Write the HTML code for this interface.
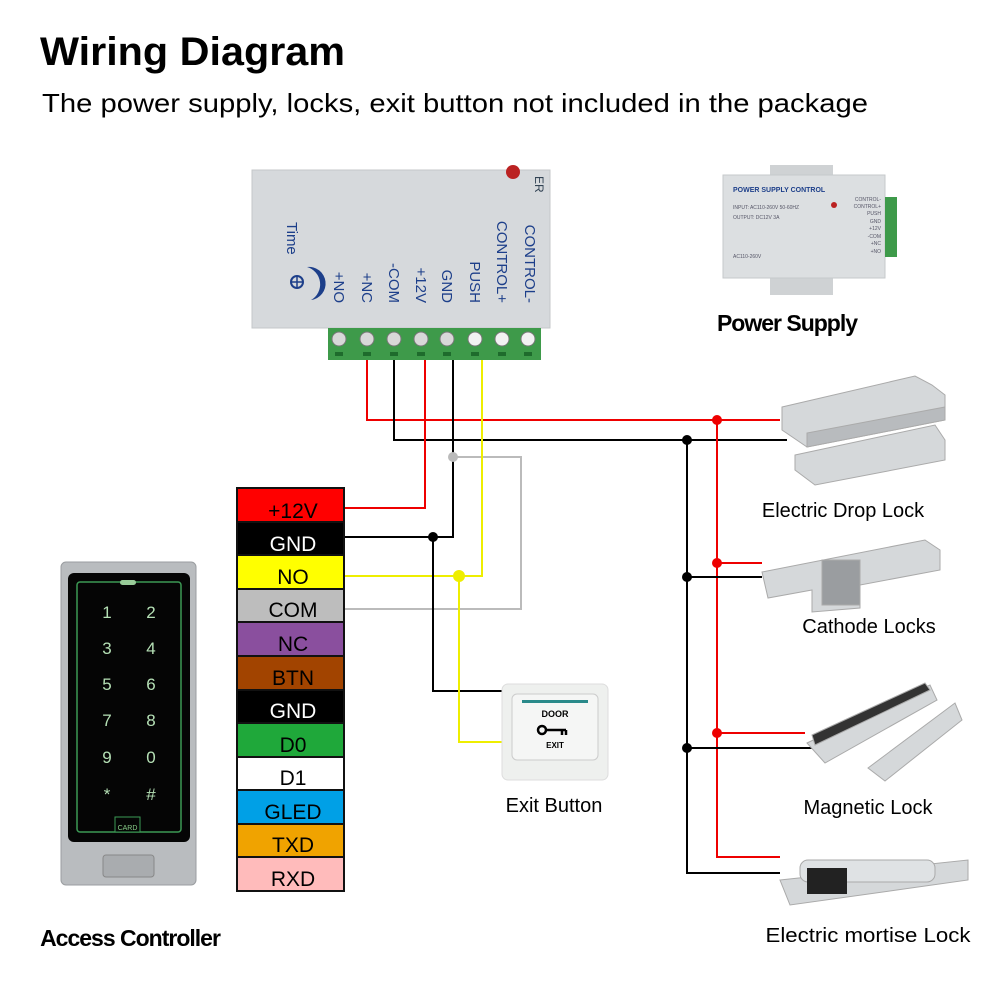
<!DOCTYPE html>
<html><head><meta charset="utf-8"><style>
html,body{margin:0;padding:0;background:#fff;}
svg{display:block;font-family:"Liberation Sans",sans-serif;}
</style></head><body>
<svg width="1000" height="1000" viewBox="0 0 1000 1000" xmlns="http://www.w3.org/2000/svg">
<rect width="1000" height="1000" fill="#fff"/>
<text x="40" y="65" font-size="40" font-weight="bold" textLength="305" lengthAdjust="spacingAndGlyphs">Wiring Diagram</text>
<text x="42" y="112" font-size="26" textLength="826" lengthAdjust="spacingAndGlyphs">The power supply, locks, exit button not included in the package</text>

<!-- Top power supply -->
<rect x="252" y="170" width="298" height="158" fill="#d6d9dc"/>
<rect x="252" y="170" width="298" height="158" fill="none" stroke="#c4c7ca"/>
<circle cx="513" cy="172" r="7" fill="#b22"/>
<text x="535" y="176" font-size="12" fill="#345" transform="rotate(90 535 176)">ER</text>
<g font-size="15" fill="#1d3f8a">
<text x="287" y="222" transform="rotate(90 287 222)">Time</text>
<text x="334" y="303" text-anchor="end" transform="rotate(90 334 303)">+NO</text>
<text x="362" y="303" text-anchor="end" transform="rotate(90 362 303)">+NC</text>
<text x="389" y="303" text-anchor="end" transform="rotate(90 389 303)">-COM</text>
<text x="416" y="303" text-anchor="end" transform="rotate(90 416 303)">+12V</text>
<text x="442" y="303" text-anchor="end" transform="rotate(90 442 303)">GND</text>
<text x="470" y="303" text-anchor="end" transform="rotate(90 470 303)">PUSH</text>
<text x="497" y="303" text-anchor="end" transform="rotate(90 497 303)">CONTROL+</text>
<text x="525" y="303" text-anchor="end" transform="rotate(90 525 303)">CONTROL-</text>
</g>
<path d="M307 267 A15 15 0 0 1 311 300 A18 18 0 0 0 307 267Z" fill="#1d3f8a"/>
<circle cx="297" cy="282" r="6" fill="none" stroke="#1d3f8a" stroke-width="2"/>
<path d="M291 282H303M297 276V288" stroke="#1d3f8a" stroke-width="1.5"/>
<rect x="328" y="328" width="213" height="32" fill="#3e9a4a"/>
<g fill="#d8d8d8" stroke="#777">
<circle cx="339" cy="339" r="7"/><circle cx="367" cy="339" r="7"/><circle cx="394" cy="339" r="7"/><circle cx="421" cy="339" r="7"/>
<circle cx="447" cy="339" r="7"/><circle cx="475" cy="339" r="7" fill="#f2f2f2"/><circle cx="502" cy="339" r="7" fill="#f2f2f2"/><circle cx="528" cy="339" r="7" fill="#f2f2f2"/>
</g>
<g fill="#1e6b2c">
<rect x="335" y="352" width="8" height="4"/><rect x="363" y="352" width="8" height="4"/><rect x="390" y="352" width="8" height="4"/><rect x="417" y="352" width="8" height="4"/>
<rect x="443" y="352" width="8" height="4"/><rect x="471" y="352" width="8" height="4"/><rect x="498" y="352" width="8" height="4"/><rect x="524" y="352" width="8" height="4"/>
</g>

<!-- Small power supply -->
<rect x="770" y="165" width="63" height="130" fill="#cfd2d4"/>
<rect x="723" y="175" width="162" height="103" fill="#dcdfe1" stroke="#c6c9cb"/>
<rect x="885" y="197" width="12" height="60" fill="#3e9a4a"/>
<text x="733" y="192" font-size="7" font-weight="bold" fill="#1d3f8a">POWER SUPPLY CONTROL</text>
<text x="733" y="209" font-size="5" fill="#556">INPUT: AC110-260V 50-60HZ</text>
<text x="733" y="219" font-size="5" fill="#556">OUTPUT: DC12V 3A</text>
<text x="733" y="258" font-size="5" fill="#556">AC110-260V</text>
<circle cx="834" cy="205" r="3" fill="#b22"/>
<g font-size="5" fill="#556" text-anchor="end"><text x="881" y="201">CONTROL-</text><text x="881" y="208">CONTROL+</text><text x="881" y="215">PUSH</text><text x="881" y="223">GND</text><text x="881" y="230">+12V</text><text x="881" y="238">-COM</text><text x="881" y="245">+NC</text><text x="881" y="253">+NO</text></g>
<text x="787" y="331" font-size="23" font-weight="bold" text-anchor="middle" letter-spacing="-1">Power Supply</text>

<!-- Wires top -->
<g fill="none" stroke-width="2">
<path d="M367 360V420H780" stroke="#e00"/>
<path d="M394 360V440H787" stroke="#000"/>
<path d="M425 360V508H344" stroke="#e00"/>
<path d="M453 360V537H344" stroke="#000"/>
<path d="M453 457H521V609H344" stroke="#bbb"/>
<path d="M482 360V576H344" stroke="#ee0"/>
<path d="M433 537V691H502" stroke="#000"/>
<path d="M459 576V742H502" stroke="#ee0"/>
<path d="M717 420V857H780M717 563H762M717 733H805" stroke="#e00"/>
<path d="M687 440V873H780M687 577H762M687 748H823" stroke="#000"/>
</g>
<circle cx="453" cy="457" r="5" fill="#bbb"/>
<circle cx="433" cy="537" r="5" fill="#000"/>
<circle cx="459" cy="576" r="6" fill="#ee0"/>
<g fill="#e00"><circle cx="717" cy="420" r="5"/><circle cx="717" cy="563" r="5"/><circle cx="717" cy="733" r="5"/></g>
<g fill="#000"><circle cx="687" cy="440" r="5"/><circle cx="687" cy="577" r="5"/><circle cx="687" cy="748" r="5"/></g>

<!-- Table -->
<g stroke="#111" stroke-width="2">
<rect x="237" y="488" width="107" height="34" fill="#f00"/>
<rect x="237" y="522" width="107" height="33" fill="#000"/>
<rect x="237" y="555" width="107" height="34" fill="#ff0"/>
<rect x="237" y="589" width="107" height="33" fill="#bdbdbd"/>
<rect x="237" y="622" width="107" height="34" fill="#8a4f9e"/>
<rect x="237" y="656" width="107" height="34" fill="#a24400"/>
<rect x="237" y="690" width="107" height="33" fill="#000"/>
<rect x="237" y="723" width="107" height="34" fill="#1fa83a"/>
<rect x="237" y="757" width="107" height="33" fill="#fff"/>
<rect x="237" y="790" width="107" height="34" fill="#00a0e6"/>
<rect x="237" y="824" width="107" height="33" fill="#f0a300"/>
<rect x="237" y="857" width="107" height="34" fill="#fbb"/>
</g>
<g font-size="21" text-anchor="middle">
<text x="293" y="518">+12V</text><text x="293" y="551" fill="#fff">GND</text><text x="293" y="584">NO</text><text x="293" y="617">COM</text>
<text x="293" y="651">NC</text><text x="293" y="685">BTN</text><text x="293" y="718" fill="#fff">GND</text><text x="293" y="752">D0</text>
<text x="293" y="785">D1</text><text x="293" y="819">GLED</text><text x="293" y="852">TXD</text><text x="293" y="886">RXD</text>
</g>

<!-- Keypad -->
<rect x="61" y="562" width="135" height="323" rx="5" fill="#b9bcbf" stroke="#9a9da0"/>
<rect x="68" y="573" width="122" height="269" rx="6" fill="#050505"/>
<rect x="77" y="582" width="104" height="250" rx="3" fill="none" stroke="#3c9a55" stroke-width="1.5"/>
<rect x="120" y="580" width="16" height="5" rx="2.5" fill="#9c9"/>
<g font-size="17" fill="#b5e0b5" text-anchor="middle">
<text x="107" y="618">1</text><text x="151" y="618">2</text><text x="107" y="654">3</text><text x="151" y="654">4</text>
<text x="107" y="690">5</text><text x="151" y="690">6</text><text x="107" y="726">7</text><text x="151" y="726">8</text>
<text x="107" y="763">9</text><text x="151" y="763">0</text><text x="107" y="800">*</text><text x="151" y="800">#</text>
</g>
<rect x="115" y="817" width="25" height="15" fill="#050505" stroke="#3c9a55"/>
<text x="127.5" y="830" font-size="7" fill="#8c8" text-anchor="middle">CARD</text>
<rect x="103" y="855" width="51" height="22" rx="3" fill="#a9acaf" stroke="#888"/>
<text x="130" y="946" font-size="23" font-weight="bold" text-anchor="middle" letter-spacing="-1">Access Controller</text>

<!-- Exit button -->
<rect x="502" y="684" width="106" height="96" rx="6" fill="#eef0ee" stroke="#ddd"/>
<rect x="512" y="694" width="86" height="66" rx="5" fill="#f5f6f5" stroke="#ccc"/>
<rect x="522" y="700" width="66" height="3" fill="#2a8a8a"/>
<text x="555" y="717" font-size="9" font-weight="bold" text-anchor="middle">DOOR</text>
<circle cx="542" cy="730" r="4" fill="none" stroke="#000" stroke-width="2.5"/><path d="M546 730H566M562 730V735M566 730V735" stroke="#000" stroke-width="2.5"/>
<text x="555" y="748" font-size="8" font-weight="bold" text-anchor="middle">EXIT</text>
<text x="554" y="812" font-size="20" text-anchor="middle">Exit Button</text>

<!-- Locks -->
<g fill="#d5d8da" stroke="#aaa">
<path d="M782 407L915 376L932 385L945 395L945 420L807 447L782 430Z"/>
<path d="M807 447L945 420L945 407L807 433Z" fill="#b8bbbe"/>
<path d="M795 455L935 425L945 440L945 460L815 485L795 470Z"/>
<path d="M762 572L925 540L940 550L940 570L860 585L860 608L812 612L812 590L768 598Z"/>
<rect x="822" y="560" width="38" height="45" fill="#9a9da0"/>
<path d="M807 743L930 685L937 700L825 763Z"/>
<path d="M812 735L925 683L930 690L815 745Z" fill="#333"/>
<path d="M868 768L955 703L962 720L885 781Z"/>
<path d="M780 880L968 860L968 880L790 905Z"/>
<rect x="800" y="860" width="135" height="22" rx="8" fill="#dfe2e4"/>
</g>
<rect x="807" y="868" width="40" height="26" fill="#222"/>
<text x="843" y="517" font-size="20" text-anchor="middle">Electric Drop Lock</text>
<text x="869" y="633" font-size="20" text-anchor="middle">Cathode Locks</text>
<text x="868" y="814" font-size="20" text-anchor="middle">Magnetic Lock</text>
<text x="868" y="942" font-size="20" text-anchor="middle" textLength="205" lengthAdjust="spacingAndGlyphs">Electric mortise Lock</text>
</svg>
</body></html>
